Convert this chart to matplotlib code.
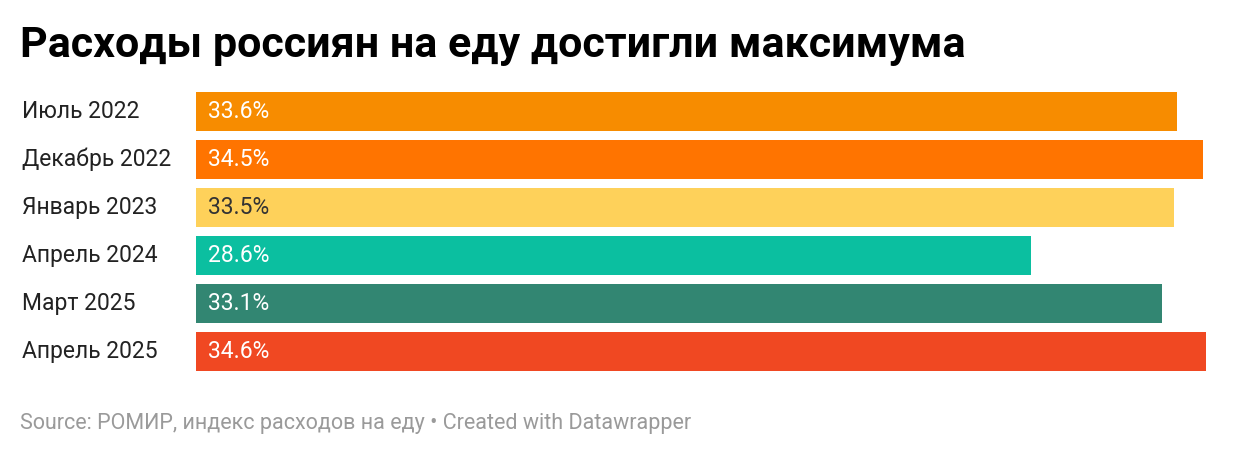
import matplotlib
matplotlib.use("Agg")
import matplotlib.pyplot as plt

categories = ["Июль 2022", "Декабрь 2022", "Январь 2023", "Апрель 2024", "Март 2025", "Апрель 2025"]
values = [33.6, 34.5, 33.5, 28.6, 33.1, 34.6]
colors = ["#F78C00", "#FF7400", "#FED15A", "#0BBFA0", "#328672", "#F04822"]

plt.rcParams["font.family"] = ["Roboto", "DejaVu Sans"]

W, H = 1240, 458
fig = plt.figure(figsize=(W / 100, H / 100), dpi=100)
ax = fig.add_axes([196 / W, 1 - 371 / H, (1206 - 196) / W, (371 - 92) / H])

y = list(range(len(categories)))
ax.barh(y, values, height=0.81, color=colors)
ax.set_xlim(0, max(values))
ax.set_ylim(len(categories) - 1 + 0.405, -0.405)
ax.axis("off")

for i, (cat, v) in enumerate(zip(categories, values)):
    ax.text(0.4, i, f"{v}%", va="center", ha="left", fontsize=16.5,
            color="#333333" if colors[i] == "#FED15A" else "white")
    ax.text(-174 / 29.19, i, cat, va="center", ha="left", fontsize=16.5, color="#222222")

fig.text(20 / W, 1 - 46 / H, "Расходы россиян на еду достигли максимума",
         fontsize=31, fontweight="bold", va="center", ha="left", color="#000000")
fig.text(20 / W, 1 - 424 / H, "Source: РОМИР, индекс расходов на еду • Created with Datawrapper",
         fontsize=15.5, va="center", ha="left", color="#9a9a9a")

fig.savefig("out.png", dpi=100)
